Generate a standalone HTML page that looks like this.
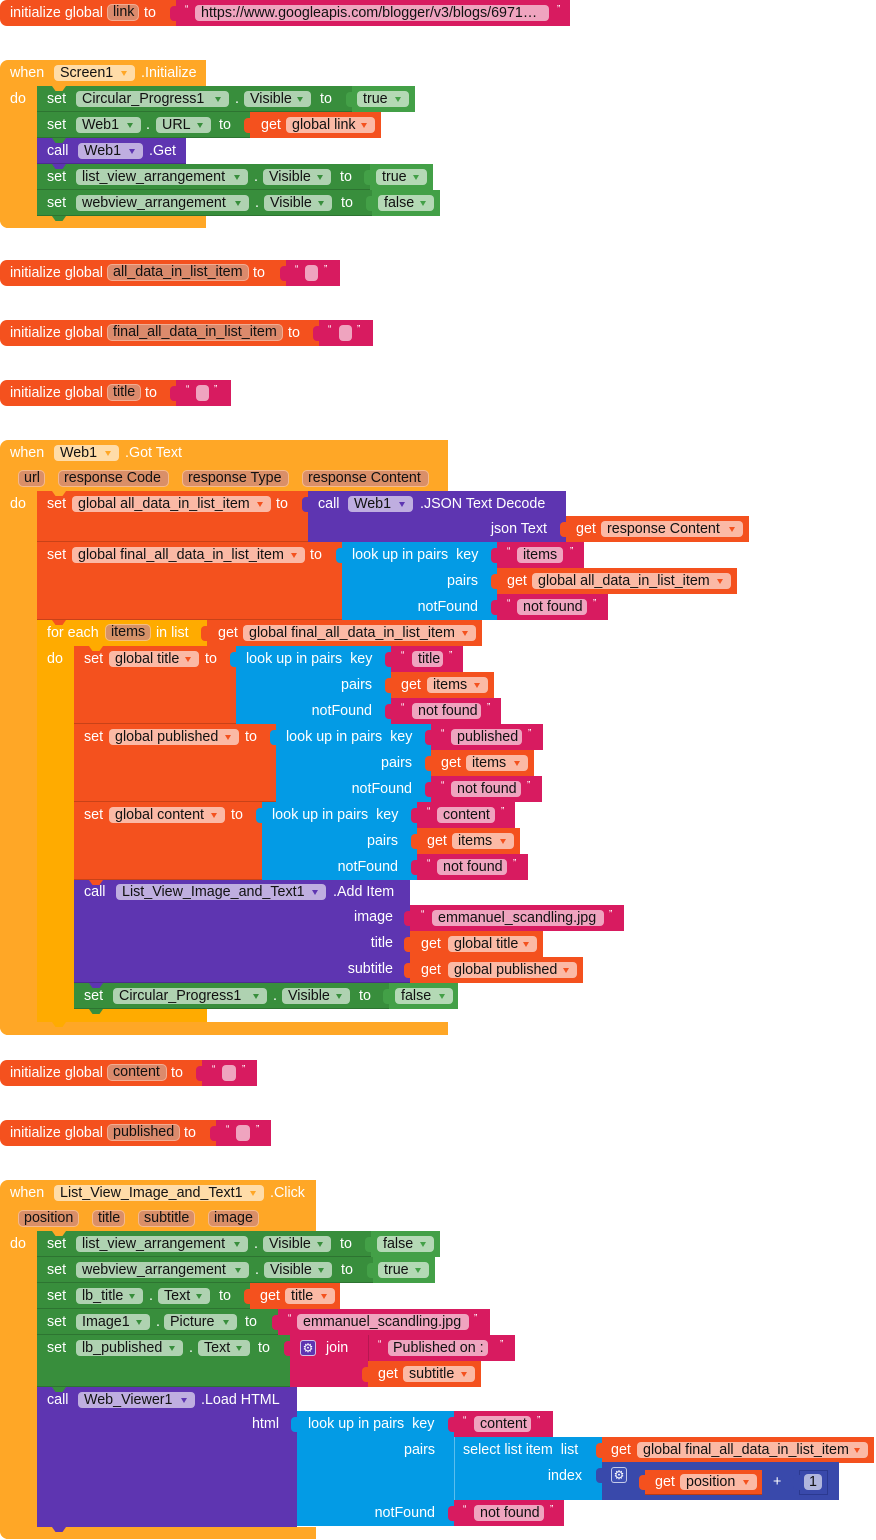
<!DOCTYPE html>
<html><head><meta charset="utf-8">
<style>
body{margin:0;background:#fff}
#c{position:relative;width:876px;height:1540px;overflow:hidden;background:#fff;font-family:"Liberation Sans",Arial,sans-serif;font-size:14.3px}
.b{position:absolute}
.t{position:absolute;color:#fff;line-height:26px;white-space:pre}
.r{position:absolute;color:#fff;line-height:26px;white-space:pre;text-align:right}
.f{position:absolute;height:16px;line-height:16px;border-radius:4px;color:#111;padding-left:6px;box-sizing:border-box;white-space:pre;overflow:hidden}
.f i{position:absolute;right:8px;top:6px;width:0;height:0;border-left:3.5px solid transparent;border-right:3.5px solid transparent;border-top:5px solid currentColor}
.vf{position:absolute;height:17px;line-height:15px;border-radius:5px;color:#111;padding-left:5px;box-sizing:border-box;white-space:pre;overflow:hidden;background:#DB8A6C;border:1px solid #F3AC92}
.ef{position:absolute;height:17px;line-height:15px;border-radius:5px;color:#111;padding-left:5px;box-sizing:border-box;white-space:pre;overflow:hidden;background:#DA8F68;border:1px solid #F5B98E}
.cf{position:absolute;height:17px;line-height:15px;border-radius:5px;color:#111;padding-left:5px;box-sizing:border-box;white-space:pre;overflow:hidden;background:#D69268;border:1px solid #F5BE80}
.q{position:absolute;color:#fff;font-size:10px;line-height:12px}
.tab{position:absolute;width:7px;height:15px;border-radius:4px 0 0 4px}
.n{position:absolute;width:14px;height:5px;clip-path:polygon(0 0,100% 0,75% 100%,25% 100%)}
.ev{background:#FFA726}.ct{background:#FFAB00}.vr{background:#F4511E}.gs{background:#388E3C}.gl{background:#43A047}.pu{background:#5E35B1}.bl{background:#039BE5}.tx{background:#D81B60}.mt{background:#3949AB}
.s{box-shadow:inset 0 -1px 0 rgba(0,0,0,.18)}
.fvr{background:#FBB9A5}.fvr i{color:#F4511E}
.fgs{background:#AFD2B1}.fgs i{color:#388E3C}
.fgl{background:#B4D9B5}.fgl i{color:#43A047}
.fpu{background:#BFAEE0}.fpu i{color:#5E35B1}
.fev{background:#FFDCA8}.fev i{color:#FFA726}
.ftx{background:#EFA4BF}
.fmt{background:#B0B6DD}
.gear{position:absolute;width:16px;height:16px;box-sizing:border-box;border:1px solid rgba(255,255,255,.7);border-radius:3px;color:#fff;font-family:"DejaVu Sans",sans-serif;font-size:12px;line-height:14px;text-align:center}
</style></head><body><div id="c">

<!-- A: initialize global link -->
<div class="b vr" style="left:0;top:0;width:176px;height:26px;border-radius:7px 0 0 7px"></div>
<div class="t" style="left:10px;top:0">initialize global</div>
<div class="vf" style="left:107px;top:4px;width:32px">link</div>
<div class="t" style="left:144px;top:0">to</div>
<div class="b tx" style="left:176px;top:0;width:394px;height:26px"></div>
<div class="tab tx" style="left:170px;top:6px"></div>
<div class="q" style="left:185px;top:4px">“</div>
<div class="f ftx" style="left:195px;top:5px;width:354px">https://www.googleapis.com/blogger/v3/blogs/6971…</div>
<div class="q" style="left:557px;top:4px">”</div>

<!-- B: Screen1.Initialize -->
<div class="b ev" style="left:0;top:60px;width:206px;height:26px;border-radius:8px 0 0 0"></div>
<div class="b ev" style="left:0;top:86px;width:37px;height:142px;border-radius:0 0 0 8px"></div>
<div class="b ev" style="left:0;top:216px;width:206px;height:12px;border-radius:0 0 0 8px"></div>
<div class="t" style="left:10px;top:60px">when</div>
<div class="f fev" style="left:54px;top:65px;width:81px">Screen1<i></i></div>
<div class="t" style="left:141px;top:60px">.Initialize</div>
<div class="t" style="left:10px;top:86px">do</div>

<div class="b gs s" style="left:37px;top:86px;width:315px;height:26px"></div>
<div class="t" style="left:47px;top:86px">set</div>
<div class="f fgs" style="left:76px;top:91px;width:153px">Circular_Progress1<i></i></div>
<div class="t" style="left:235px;top:86px">.</div>
<div class="f fgs" style="left:244px;top:91px;width:67px">Visible<i></i></div>
<div class="t" style="left:320px;top:86px">to</div>
<div class="b gl" style="left:352px;top:86px;width:63px;height:26px"></div>
<div class="tab gl" style="left:346px;top:92px"></div>
<div class="f fgl" style="left:357px;top:91px;width:52px">true<i></i></div>

<div class="b gs s" style="left:37px;top:112px;width:213px;height:26px"></div>
<div class="t" style="left:47px;top:112px">set</div>
<div class="f fgs" style="left:76px;top:117px;width:65px">Web1<i></i></div>
<div class="t" style="left:146px;top:112px">.</div>
<div class="f fgs" style="left:156px;top:117px;width:55px">URL<i></i></div>
<div class="t" style="left:219px;top:112px">to</div>
<div class="b vr" style="left:250px;top:112px;width:131px;height:26px"></div>
<div class="tab vr" style="left:244px;top:118px"></div>
<div class="t" style="left:261px;top:112px">get</div>
<div class="f fvr" style="left:286px;top:117px;width:89px">global link<i></i></div>

<div class="b pu s" style="left:37px;top:138px;width:149px;height:26px"></div>
<div class="t" style="left:47px;top:138px">call</div>
<div class="f fpu" style="left:78px;top:143px;width:65px">Web1<i></i></div>
<div class="t" style="left:149px;top:138px">.Get</div>

<div class="b gs s" style="left:37px;top:164px;width:333px;height:26px"></div>
<div class="t" style="left:47px;top:164px">set</div>
<div class="f fgs" style="left:76px;top:169px;width:172px">list_view_arrangement<i></i></div>
<div class="t" style="left:254px;top:164px">.</div>
<div class="f fgs" style="left:263px;top:169px;width:68px">Visible<i></i></div>
<div class="t" style="left:340px;top:164px">to</div>
<div class="b gl" style="left:370px;top:164px;width:63px;height:26px"></div>
<div class="tab gl" style="left:364px;top:170px"></div>
<div class="f fgl" style="left:376px;top:169px;width:51px">true<i></i></div>

<div class="b gs s" style="left:37px;top:190px;width:335px;height:26px"></div>
<div class="t" style="left:47px;top:190px">set</div>
<div class="f fgs" style="left:76px;top:195px;width:173px">webview_arrangement<i></i></div>
<div class="t" style="left:255px;top:190px">.</div>
<div class="f fgs" style="left:264px;top:195px;width:68px">Visible<i></i></div>
<div class="t" style="left:341px;top:190px">to</div>
<div class="b gl" style="left:372px;top:190px;width:68px;height:26px"></div>
<div class="tab gl" style="left:366px;top:196px"></div>
<div class="f fgl" style="left:378px;top:195px;width:56px">false<i></i></div>

<div class="n ev" style="left:52px;top:86px"></div>
<div class="n gs" style="left:52px;top:138px"></div>
<div class="n pu" style="left:52px;top:164px"></div>
<div class="n gs" style="left:52px;top:216px"></div>

<!-- C -->
<div class="b vr" style="left:0;top:260px;width:286px;height:26px;border-radius:7px 0 0 7px"></div>
<div class="t" style="left:10px;top:260px">initialize global</div>
<div class="vf" style="left:107px;top:264px;width:142px">all_data_in_list_item</div>
<div class="t" style="left:253px;top:260px">to</div>
<div class="b tx" style="left:286px;top:260px;width:54px;height:26px"></div>
<div class="tab tx" style="left:280px;top:266px"></div>
<div class="q" style="left:295px;top:264px">“</div>
<div class="f ftx" style="left:305px;top:265px;width:13px"></div>
<div class="q" style="left:324px;top:264px">”</div>

<!-- D -->
<div class="b vr" style="left:0;top:320px;width:319px;height:26px;border-radius:7px 0 0 7px"></div>
<div class="t" style="left:10px;top:320px">initialize global</div>
<div class="vf" style="left:107px;top:324px;width:176px">final_all_data_in_list_item</div>
<div class="t" style="left:288px;top:320px">to</div>
<div class="b tx" style="left:319px;top:320px;width:54px;height:26px"></div>
<div class="tab tx" style="left:313px;top:326px"></div>
<div class="q" style="left:328px;top:324px">“</div>
<div class="f ftx" style="left:339px;top:325px;width:13px"></div>
<div class="q" style="left:357px;top:324px">”</div>

<!-- E -->
<div class="b vr" style="left:0;top:380px;width:176px;height:26px;border-radius:7px 0 0 7px"></div>
<div class="t" style="left:10px;top:380px">initialize global</div>
<div class="vf" style="left:107px;top:384px;width:34px">title</div>
<div class="t" style="left:145px;top:380px">to</div>
<div class="b tx" style="left:176px;top:380px;width:55px;height:26px"></div>
<div class="tab tx" style="left:170px;top:386px"></div>
<div class="q" style="left:186px;top:384px">“</div>
<div class="f ftx" style="left:196px;top:385px;width:13px"></div>
<div class="q" style="left:214px;top:384px">”</div>

<!-- F: Web1.GotText -->
<div class="b ev" style="left:0;top:440px;width:448px;height:51px;border-radius:8px 0 0 0"></div>
<div class="b ev" style="left:0;top:491px;width:37px;height:544px;border-radius:0 0 0 8px"></div>
<div class="b ev" style="left:0;top:1022px;width:448px;height:13px;border-radius:0 0 0 8px"></div>
<div class="t" style="left:10px;top:440px">when</div>
<div class="f fev" style="left:54px;top:445px;width:65px">Web1<i></i></div>
<div class="t" style="left:125px;top:440px">.Got Text</div>
<div class="ef" style="left:18px;top:470px;width:27px">url</div>
<div class="ef" style="left:58px;top:470px;width:111px">response Code</div>
<div class="ef" style="left:182px;top:470px;width:107px">response Type</div>
<div class="ef" style="left:302px;top:470px;width:127px">response Content</div>
<div class="t" style="left:10px;top:491px">do</div>

<div class="b vr s" style="left:37px;top:491px;width:271px;height:51px"></div>
<div class="t" style="left:47px;top:491px">set</div>
<div class="f fvr" style="left:72px;top:496px;width:199px">global all_data_in_list_item<i></i></div>
<div class="t" style="left:276px;top:491px">to</div>
<div class="b pu" style="left:308px;top:491px;width:258px;height:51px"></div>
<div class="tab pu" style="left:302px;top:497px"></div>
<div class="t" style="left:318px;top:491px">call</div>
<div class="f fpu" style="left:348px;top:496px;width:65px">Web1<i></i></div>
<div class="t" style="left:420px;top:491px">.JSON Text Decode</div>
<div class="r" style="right:329px;top:516px">json Text</div>
<div class="b vr" style="left:566px;top:516px;width:183px;height:26px"></div>
<div class="tab vr" style="left:560px;top:522px"></div>
<div class="t" style="left:576px;top:516px">get</div>
<div class="f fvr" style="left:601px;top:521px;width:142px">response Content<i></i></div>

<div class="b vr s" style="left:37px;top:542px;width:305px;height:78px"></div>
<div class="t" style="left:47px;top:542px">set</div>
<div class="f fvr" style="left:72px;top:547px;width:233px">global final_all_data_in_list_item<i></i></div>
<div class="t" style="left:310px;top:542px">to</div>
<div class="b bl" style="left:342px;top:542px;width:155px;height:78px"></div>
<div class="tab bl" style="left:336px;top:548px"></div>
<div class="t" style="left:352px;top:542px">look up in pairs  key</div>
<div class="r" style="right:398px;top:568px">pairs</div>
<div class="r" style="right:398px;top:594px">notFound</div>
<div class="b tx" style="left:497px;top:542px;width:87px;height:26px"></div>
<div class="tab tx" style="left:491px;top:548px"></div>
<div class="q" style="left:507px;top:546px">“</div>
<div class="f ftx" style="left:517px;top:547px;width:46px">items</div>
<div class="q" style="left:570px;top:546px">”</div>
<div class="b vr" style="left:497px;top:568px;width:240px;height:26px"></div>
<div class="tab vr" style="left:491px;top:574px"></div>
<div class="t" style="left:507px;top:568px">get</div>
<div class="f fvr" style="left:532px;top:573px;width:199px">global all_data_in_list_item<i></i></div>
<div class="b tx" style="left:497px;top:594px;width:111px;height:26px"></div>
<div class="tab tx" style="left:491px;top:600px"></div>
<div class="q" style="left:507px;top:598px">“</div>
<div class="f ftx" style="left:517px;top:599px;width:70px">not found</div>
<div class="q" style="left:593px;top:598px">”</div>

<!-- for each -->
<div class="b ct" style="left:37px;top:620px;width:170px;height:26px"></div>
<div class="b ct" style="left:37px;top:646px;width:37px;height:376px"></div>
<div class="b ct" style="left:37px;top:1009px;width:170px;height:13px"></div>
<div class="t" style="left:47px;top:620px">for each</div>
<div class="cf" style="left:105px;top:624px;width:46px">items</div>
<div class="t" style="left:156px;top:620px">in list</div>
<div class="b vr" style="left:207px;top:620px;width:275px;height:26px"></div>
<div class="tab vr" style="left:201px;top:626px"></div>
<div class="t" style="left:218px;top:620px">get</div>
<div class="f fvr" style="left:243px;top:625px;width:233px">global final_all_data_in_list_item<i></i></div>
<div class="t" style="left:47px;top:646px">do</div>

<!-- set title -->
<div class="b vr s" style="left:74px;top:646px;width:162px;height:78px"></div>
<div class="t" style="left:84px;top:646px">set</div>
<div class="f fvr" style="left:109px;top:651px;width:90px">global title<i></i></div>
<div class="t" style="left:205px;top:646px">to</div>
<div class="b bl" style="left:236px;top:646px;width:155px;height:78px"></div>
<div class="tab bl" style="left:230px;top:652px"></div>
<div class="t" style="left:246px;top:646px">look up in pairs  key</div>
<div class="r" style="right:504px;top:672px">pairs</div>
<div class="r" style="right:504px;top:698px">notFound</div>
<div class="b tx" style="left:391px;top:646px;width:72px;height:26px"></div>
<div class="tab tx" style="left:385px;top:652px"></div>
<div class="q" style="left:401px;top:650px">“</div>
<div class="f ftx" style="left:412px;top:651px;width:31px">title</div>
<div class="q" style="left:449px;top:650px">”</div>
<div class="b vr" style="left:391px;top:672px;width:103px;height:26px"></div>
<div class="tab vr" style="left:385px;top:678px"></div>
<div class="t" style="left:401px;top:672px">get</div>
<div class="f fvr" style="left:427px;top:677px;width:61px">items<i></i></div>
<div class="b tx" style="left:391px;top:698px;width:110px;height:26px"></div>
<div class="tab tx" style="left:385px;top:704px"></div>
<div class="q" style="left:401px;top:702px">“</div>
<div class="f ftx" style="left:412px;top:703px;width:69px">not found</div>
<div class="q" style="left:487px;top:702px">”</div>

<!-- set published -->
<div class="b vr s" style="left:74px;top:724px;width:202px;height:78px"></div>
<div class="t" style="left:84px;top:724px">set</div>
<div class="f fvr" style="left:109px;top:729px;width:130px">global published<i></i></div>
<div class="t" style="left:245px;top:724px">to</div>
<div class="b bl" style="left:276px;top:724px;width:155px;height:78px"></div>
<div class="tab bl" style="left:270px;top:730px"></div>
<div class="t" style="left:286px;top:724px">look up in pairs  key</div>
<div class="r" style="right:464px;top:750px">pairs</div>
<div class="r" style="right:464px;top:776px">notFound</div>
<div class="b tx" style="left:431px;top:724px;width:112px;height:26px"></div>
<div class="tab tx" style="left:425px;top:730px"></div>
<div class="q" style="left:441px;top:728px">“</div>
<div class="f ftx" style="left:451px;top:729px;width:71px">published</div>
<div class="q" style="left:528px;top:728px">”</div>
<div class="b vr" style="left:431px;top:750px;width:103px;height:26px"></div>
<div class="tab vr" style="left:425px;top:756px"></div>
<div class="t" style="left:441px;top:750px">get</div>
<div class="f fvr" style="left:466px;top:755px;width:62px">items<i></i></div>
<div class="b tx" style="left:431px;top:776px;width:111px;height:26px"></div>
<div class="tab tx" style="left:425px;top:782px"></div>
<div class="q" style="left:441px;top:780px">“</div>
<div class="f ftx" style="left:451px;top:781px;width:70px">not found</div>
<div class="q" style="left:527px;top:780px">”</div>

<!-- set content -->
<div class="b vr s" style="left:74px;top:802px;width:188px;height:78px"></div>
<div class="t" style="left:84px;top:802px">set</div>
<div class="f fvr" style="left:109px;top:807px;width:116px">global content<i></i></div>
<div class="t" style="left:231px;top:802px">to</div>
<div class="b bl" style="left:262px;top:802px;width:155px;height:78px"></div>
<div class="tab bl" style="left:256px;top:808px"></div>
<div class="t" style="left:272px;top:802px">look up in pairs  key</div>
<div class="r" style="right:478px;top:828px">pairs</div>
<div class="r" style="right:478px;top:854px">notFound</div>
<div class="b tx" style="left:417px;top:802px;width:98px;height:26px"></div>
<div class="tab tx" style="left:411px;top:808px"></div>
<div class="q" style="left:427px;top:806px">“</div>
<div class="f ftx" style="left:437px;top:807px;width:58px">content</div>
<div class="q" style="left:501px;top:806px">”</div>
<div class="b vr" style="left:417px;top:828px;width:103px;height:26px"></div>
<div class="tab vr" style="left:411px;top:834px"></div>
<div class="t" style="left:427px;top:828px">get</div>
<div class="f fvr" style="left:452px;top:833px;width:62px">items<i></i></div>
<div class="b tx" style="left:417px;top:854px;width:111px;height:26px"></div>
<div class="tab tx" style="left:411px;top:860px"></div>
<div class="q" style="left:427px;top:858px">“</div>
<div class="f ftx" style="left:437px;top:859px;width:70px">not found</div>
<div class="q" style="left:513px;top:858px">”</div>

<!-- call Add Item -->
<div class="b pu s" style="left:74px;top:880px;width:336px;height:103px"></div>
<div class="t" style="left:84px;top:879px">call</div>
<div class="f fpu" style="left:116px;top:884px;width:210px">List_View_Image_and_Text1<i></i></div>
<div class="t" style="left:333px;top:879px">.Add Item</div>
<div class="r" style="right:483px;top:904px">image</div>
<div class="r" style="right:483px;top:930px">title</div>
<div class="r" style="right:483px;top:956px">subtitle</div>
<div class="b tx" style="left:410px;top:905px;width:214px;height:26px"></div>
<div class="tab tx" style="left:404px;top:911px"></div>
<div class="q" style="left:421px;top:909px">“</div>
<div class="f ftx" style="left:432px;top:910px;width:172px">emmanuel_scandling.jpg</div>
<div class="q" style="left:609px;top:909px">”</div>
<div class="b vr" style="left:410px;top:931px;width:133px;height:26px"></div>
<div class="tab vr" style="left:404px;top:937px"></div>
<div class="t" style="left:421px;top:931px">get</div>
<div class="f fvr" style="left:448px;top:936px;width:89px">global title<i></i></div>
<div class="b vr" style="left:410px;top:957px;width:173px;height:26px"></div>
<div class="tab vr" style="left:404px;top:963px"></div>
<div class="t" style="left:421px;top:957px">get</div>
<div class="f fvr" style="left:448px;top:962px;width:129px">global published<i></i></div>

<!-- set Circular false -->
<div class="b gs s" style="left:74px;top:983px;width:315px;height:26px"></div>
<div class="t" style="left:84px;top:983px">set</div>
<div class="f fgs" style="left:113px;top:988px;width:154px">Circular_Progress1<i></i></div>
<div class="t" style="left:273px;top:983px">.</div>
<div class="f fgs" style="left:282px;top:988px;width:68px">Visible<i></i></div>
<div class="t" style="left:359px;top:983px">to</div>
<div class="b gl" style="left:389px;top:983px;width:69px;height:26px"></div>
<div class="tab gl" style="left:383px;top:989px"></div>
<div class="f fgl" style="left:395px;top:988px;width:58px">false<i></i></div>

<div class="n ev" style="left:52px;top:491px"></div>
<div class="n vr" style="left:52px;top:620px"></div>
<div class="n ct" style="left:89px;top:646px"></div>
<div class="n vr" style="left:89px;top:880px"></div>
<div class="n pu" style="left:89px;top:983px"></div>
<div class="n gs" style="left:89px;top:1009px"></div>
<div class="n ct" style="left:52px;top:1022px"></div>

<!-- G -->
<div class="b vr" style="left:0;top:1060px;width:202px;height:26px;border-radius:7px 0 0 7px"></div>
<div class="t" style="left:10px;top:1060px">initialize global</div>
<div class="vf" style="left:107px;top:1064px;width:60px">content</div>
<div class="t" style="left:171px;top:1060px">to</div>
<div class="b tx" style="left:202px;top:1060px;width:55px;height:26px"></div>
<div class="tab tx" style="left:196px;top:1066px"></div>
<div class="q" style="left:212px;top:1064px">“</div>
<div class="f ftx" style="left:222px;top:1065px;width:14px"></div>
<div class="q" style="left:242px;top:1064px">”</div>

<!-- H -->
<div class="b vr" style="left:0;top:1120px;width:216px;height:26px;border-radius:7px 0 0 7px"></div>
<div class="t" style="left:10px;top:1120px">initialize global</div>
<div class="vf" style="left:107px;top:1124px;width:73px">published</div>
<div class="t" style="left:184px;top:1120px">to</div>
<div class="b tx" style="left:216px;top:1120px;width:55px;height:26px"></div>
<div class="tab tx" style="left:210px;top:1126px"></div>
<div class="q" style="left:226px;top:1124px">“</div>
<div class="f ftx" style="left:236px;top:1125px;width:14px"></div>
<div class="q" style="left:256px;top:1124px">”</div>

<!-- I: List_View Click -->
<div class="b ev" style="left:0;top:1180px;width:316px;height:51px;border-radius:8px 0 0 0"></div>
<div class="b ev" style="left:0;top:1231px;width:37px;height:308px;border-radius:0 0 0 8px"></div>
<div class="b ev" style="left:0;top:1527px;width:316px;height:12px;border-radius:0 0 0 8px"></div>
<div class="t" style="left:10px;top:1180px">when</div>
<div class="f fev" style="left:54px;top:1185px;width:210px">List_View_Image_and_Text1<i></i></div>
<div class="t" style="left:270px;top:1180px">.Click</div>
<div class="ef" style="left:18px;top:1210px;width:61px">position</div>
<div class="ef" style="left:92px;top:1210px;width:33px">title</div>
<div class="ef" style="left:138px;top:1210px;width:57px">subtitle</div>
<div class="ef" style="left:208px;top:1210px;width:51px">image</div>
<div class="t" style="left:10px;top:1231px">do</div>

<div class="b gs s" style="left:37px;top:1231px;width:334px;height:26px"></div>
<div class="t" style="left:47px;top:1231px">set</div>
<div class="f fgs" style="left:76px;top:1236px;width:172px">list_view_arrangement<i></i></div>
<div class="t" style="left:254px;top:1231px">.</div>
<div class="f fgs" style="left:263px;top:1236px;width:68px">Visible<i></i></div>
<div class="t" style="left:340px;top:1231px">to</div>
<div class="b gl" style="left:371px;top:1231px;width:69px;height:26px"></div>
<div class="tab gl" style="left:365px;top:1237px"></div>
<div class="f fgl" style="left:377px;top:1236px;width:57px">false<i></i></div>

<div class="b gs s" style="left:37px;top:1257px;width:336px;height:26px"></div>
<div class="t" style="left:47px;top:1257px">set</div>
<div class="f fgs" style="left:76px;top:1262px;width:173px">webview_arrangement<i></i></div>
<div class="t" style="left:255px;top:1257px">.</div>
<div class="f fgs" style="left:264px;top:1262px;width:68px">Visible<i></i></div>
<div class="t" style="left:341px;top:1257px">to</div>
<div class="b gl" style="left:373px;top:1257px;width:62px;height:26px"></div>
<div class="tab gl" style="left:367px;top:1263px"></div>
<div class="f fgl" style="left:378px;top:1262px;width:51px">true<i></i></div>

<div class="b gs s" style="left:37px;top:1283px;width:213px;height:26px"></div>
<div class="t" style="left:47px;top:1283px">set</div>
<div class="f fgs" style="left:76px;top:1288px;width:67px">lb_title<i></i></div>
<div class="t" style="left:149px;top:1283px">.</div>
<div class="f fgs" style="left:158px;top:1288px;width:52px">Text<i></i></div>
<div class="t" style="left:219px;top:1283px">to</div>
<div class="b vr" style="left:250px;top:1283px;width:90px;height:26px"></div>
<div class="tab vr" style="left:244px;top:1289px"></div>
<div class="t" style="left:260px;top:1283px">get</div>
<div class="f fvr" style="left:285px;top:1288px;width:50px">title<i></i></div>

<div class="b gs s" style="left:37px;top:1309px;width:241px;height:26px"></div>
<div class="t" style="left:47px;top:1309px">set</div>
<div class="f fgs" style="left:76px;top:1314px;width:74px">Image1<i></i></div>
<div class="t" style="left:156px;top:1309px">.</div>
<div class="f fgs" style="left:164px;top:1314px;width:73px">Picture<i></i></div>
<div class="t" style="left:245px;top:1309px">to</div>
<div class="b tx" style="left:278px;top:1309px;width:212px;height:26px"></div>
<div class="tab tx" style="left:272px;top:1315px"></div>
<div class="q" style="left:288px;top:1313px">“</div>
<div class="f ftx" style="left:297px;top:1314px;width:172px">emmanuel_scandling.jpg</div>
<div class="q" style="left:474px;top:1313px">”</div>

<div class="b gs s" style="left:37px;top:1335px;width:253px;height:52px"></div>
<div class="t" style="left:47px;top:1335px">set</div>
<div class="f fgs" style="left:76px;top:1340px;width:107px">lb_published<i></i></div>
<div class="t" style="left:189px;top:1335px">.</div>
<div class="f fgs" style="left:198px;top:1340px;width:52px">Text<i></i></div>
<div class="t" style="left:258px;top:1335px">to</div>
<div class="b tx" style="left:290px;top:1335px;width:78px;height:52px"></div>
<div class="tab tx" style="left:284px;top:1341px"></div>
<div class="gear" style="left:300px;top:1340px;background:#5E35B1">⚙</div>
<div class="t" style="left:326px;top:1335px">join</div>
<div class="b tx" style="left:368px;top:1335px;width:147px;height:26px;box-shadow:inset 1px 0 0 rgba(0,0,0,.15)"></div>
<div class="q" style="left:378px;top:1339px">“</div>
<div class="f ftx" style="left:388px;top:1340px;width:100px;padding-left:5px">Published on :</div>
<div class="q" style="left:500px;top:1339px">”</div>
<div class="b vr" style="left:368px;top:1361px;width:113px;height:26px"></div>
<div class="tab vr" style="left:362px;top:1367px"></div>
<div class="t" style="left:378px;top:1361px">get</div>
<div class="f fvr" style="left:403px;top:1366px;width:72px">subtitle<i></i></div>

<div class="b pu" style="left:37px;top:1387px;width:260px;height:140px"></div>
<div class="t" style="left:47px;top:1387px">call</div>
<div class="f fpu" style="left:78px;top:1392px;width:117px">Web_Viewer1<i></i></div>
<div class="t" style="left:201px;top:1387px">.Load HTML</div>
<div class="r" style="right:597px;top:1411px">html</div>
<div class="b bl" style="left:297px;top:1411px;width:157px;height:115px"></div>
<div class="tab bl" style="left:291px;top:1417px"></div>
<div class="t" style="left:308px;top:1411px">look up in pairs  key</div>
<div class="r" style="right:441px;top:1437px">pairs</div>
<div class="r" style="right:441px;top:1500px">notFound</div>
<div class="b tx" style="left:454px;top:1411px;width:99px;height:26px"></div>
<div class="tab tx" style="left:448px;top:1417px"></div>
<div class="q" style="left:463px;top:1415px">“</div>
<div class="f ftx" style="left:474px;top:1416px;width:57px">content</div>
<div class="q" style="left:537px;top:1415px">”</div>
<div class="b bl" style="left:454px;top:1437px;width:148px;height:63px;box-shadow:inset 1px 0 0 rgba(255,255,255,.35)"></div>
<div class="t" style="left:463px;top:1437px">select list item  list</div>
<div class="r" style="right:294px;top:1463px">index</div>
<div class="b vr" style="left:602px;top:1437px;width:272px;height:26px"></div>
<div class="tab vr" style="left:596px;top:1443px"></div>
<div class="t" style="left:611px;top:1437px">get</div>
<div class="f fvr" style="left:637px;top:1442px;width:231px">global final_all_data_in_list_item<i></i></div>
<div class="b mt" style="left:602px;top:1462px;width:237px;height:38px"></div>
<div class="tab mt" style="left:596px;top:1468px"></div>
<div class="gear" style="left:611px;top:1467px;background:#3F51B5">⚙</div>
<div class="b vr" style="left:645px;top:1470px;width:117px;height:25px;box-shadow:inset 0 -1px 0 rgba(0,0,0,.25)"></div>
<div class="tab vr" style="left:639px;top:1475px"></div>
<div class="t" style="left:655px;top:1469px">get</div>
<div class="f fvr" style="left:680px;top:1474px;width:77px">position<i></i></div>
<div class="t" style="left:773px;top:1469px">+</div>
<div class="b mt" style="left:799px;top:1470px;width:29px;height:25px;box-sizing:border-box;border:1px solid #2B3990"></div>
<div class="tab mt" style="left:793px;top:1475px"></div>
<div class="f fmt" style="left:804px;top:1474px;width:18px;padding-left:5px">1</div>
<div class="b tx" style="left:454px;top:1500px;width:110px;height:26px"></div>
<div class="tab tx" style="left:448px;top:1506px"></div>
<div class="q" style="left:463px;top:1504px">“</div>
<div class="f ftx" style="left:474px;top:1505px;width:70px">not found</div>
<div class="q" style="left:550px;top:1504px">”</div>

<div class="n ev" style="left:52px;top:1231px"></div>
<div class="n gs" style="left:52px;top:1387px"></div>
<div class="n pu" style="left:52px;top:1527px"></div>

</div></body></html>
